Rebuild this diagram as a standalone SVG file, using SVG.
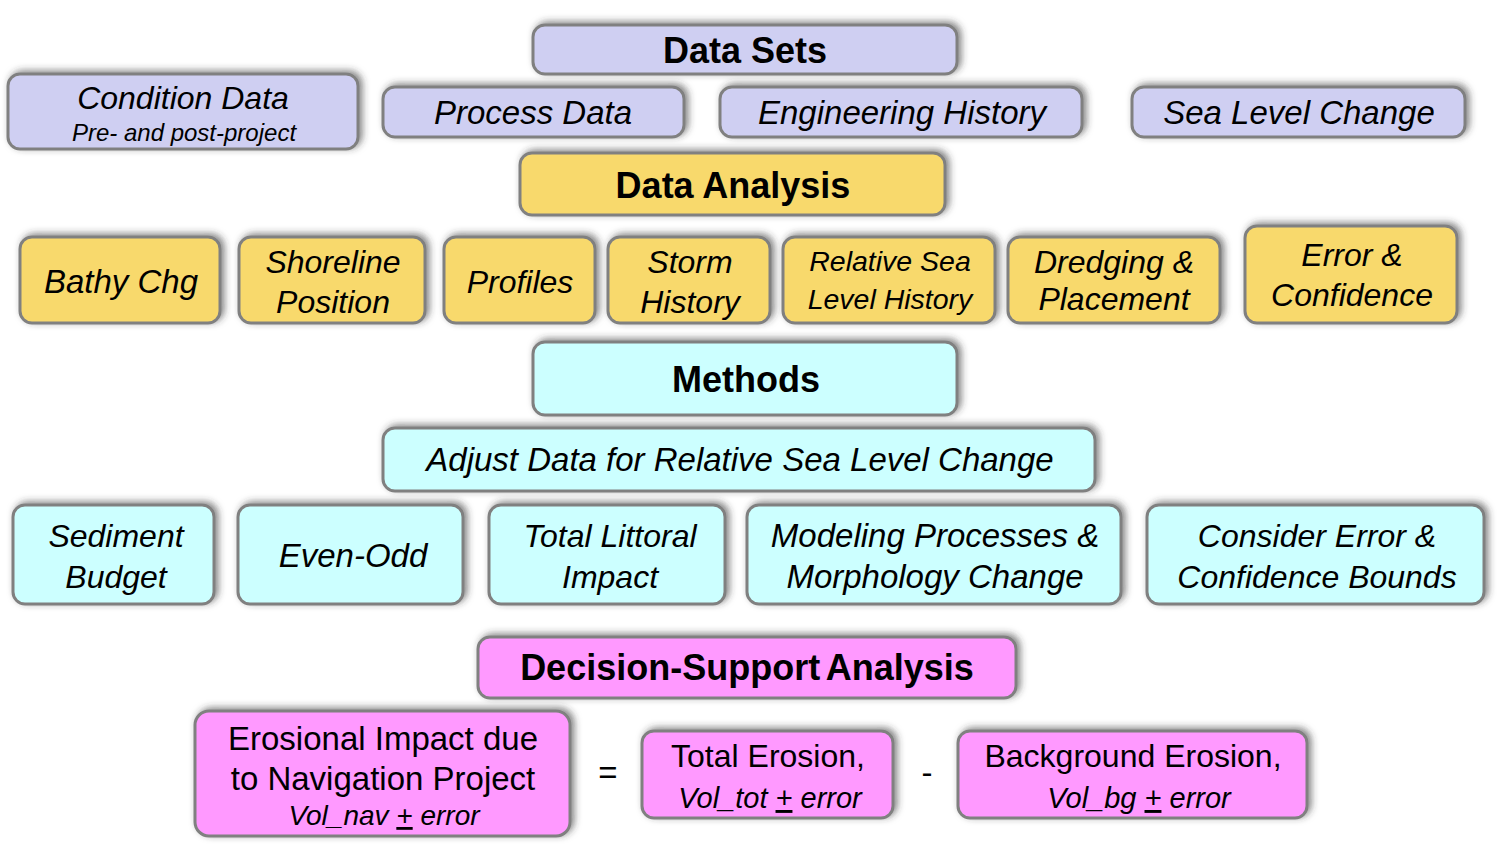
<svg xmlns="http://www.w3.org/2000/svg" width="1501" height="845" viewBox="0 0 1501 845">
<defs>
<filter id="sh" x="-10%" y="-30%" width="120%" height="160%">
<feDropShadow dx="3" dy="-2" stdDeviation="3.5" flood-color="#333" flood-opacity="0.6"/>
</filter>
<style>
rect{stroke:#808080;stroke-width:3;filter:url(#sh)}
.ds rect{fill:#cfcff2}
.da rect{fill:#f8d96c}
.me rect{fill:#ccffff}
.dc rect{fill:#ff99ff}
text{font-family:"Liberation Sans",Arial,sans-serif;fill:#000;text-anchor:middle}
.b{font-weight:bold;font-size:36px}
.i{font-style:italic;font-size:33px}
.i32{font-style:italic;font-size:32px}
.r{font-size:33px}
</style>
</defs>
<rect width="1501" height="845" fill="#fff" style="stroke:none;filter:none"/>
<g id="connectors"></g>
<g id="data-sets" class="ds"><rect x="533" y="25" width="424" height="49" rx="12"/><text class="b" x="745" y="63">Data Sets</text></g>
<g id="condition-data" class="ds"><rect x="8" y="74" width="350" height="75" rx="12"/><text class="i32" x="183" y="109">Condition Data</text><text style="font-style:italic;font-size:24px" x="184" y="141">Pre- and post-project</text></g>
<g id="process-data" class="ds"><rect x="383" y="87" width="301" height="50" rx="12"/><text class="i" x="533" y="124">Process Data</text></g>
<g id="engineering-history" class="ds"><rect x="720" y="87" width="362" height="50" rx="12"/><text class="i" x="902" y="124">Engineering History</text></g>
<g id="sea-level-change" class="ds"><rect x="1132" y="87" width="333" height="50" rx="12"/><text class="i" x="1299" y="124">Sea Level Change</text></g>
<g id="data-analysis" class="da"><rect x="520" y="153" width="425" height="62" rx="12"/><text class="b" x="733" y="198">Data Analysis</text></g>
<g id="bathy-chg" class="da"><rect x="20" y="237" width="200" height="86" rx="12"/><text class="i" x="121" y="293">Bathy Chg</text></g>
<g id="shoreline-position" class="da"><rect x="239" y="237" width="186" height="86" rx="12"/><text class="i32" x="333" y="273">Shoreline</text><text class="i32" x="333" y="313">Position</text></g>
<g id="profiles" class="da"><rect x="444" y="237" width="151" height="86" rx="12"/><text class="i32" x="520" y="293">Profiles</text></g>
<g id="storm-history" class="da"><rect x="608" y="237" width="162" height="86" rx="12"/><text class="i32" x="690" y="273">Storm</text><text class="i32" x="690" y="313">History</text></g>
<g id="relative-sea-level-history" class="da"><rect x="783" y="237" width="212" height="86" rx="12"/><text style="font-style:italic;font-size:28.5px" x="890" y="271">Relative Sea</text><text style="font-style:italic;font-size:28.5px" x="890" y="309">Level History</text></g>
<g id="dredging-placement" class="da"><rect x="1008" y="237" width="212" height="86" rx="12"/><text class="i32" x="1114" y="273">Dredging &amp;</text><text class="i32" x="1114" y="310">Placement</text></g>
<g id="error-confidence" class="da"><rect x="1245" y="226" width="212" height="97" rx="12"/><text class="i32" x="1352" y="266">Error &amp;</text><text class="i32" x="1352" y="306">Confidence</text></g>
<g id="methods" class="me"><rect x="533" y="342" width="424" height="73" rx="12"/><text class="b" x="746" y="392">Methods</text></g>
<g id="adjust-data" class="me"><rect x="383" y="428" width="712" height="63" rx="12"/><text class="i" x="740" y="471">Adjust Data for Relative Sea Level Change</text></g>
<g id="sediment-budget" class="me"><rect x="13" y="505" width="201" height="99" rx="12"/><text class="i32" x="116" y="547">Sediment</text><text class="i32" x="116" y="588">Budget</text></g>
<g id="even-odd" class="me"><rect x="238" y="505" width="225" height="99" rx="12"/><text class="i" x="353" y="567">Even-Odd</text></g>
<g id="total-littoral-impact" class="me"><rect x="489" y="505" width="236" height="99" rx="12"/><text class="i32" x="610" y="547">Total Littoral</text><text class="i32" x="610" y="588">Impact</text></g>
<g id="modeling-processes" class="me"><rect x="747" y="505" width="374" height="99" rx="12"/><text class="i" x="935" y="547">Modeling Processes &amp;</text><text class="i" x="935" y="588">Morphology Change</text></g>
<g id="consider-error" class="me"><rect x="1147" y="505" width="337" height="99" rx="12"/><text class="i32" x="1317" y="547">Consider Error &amp;</text><text class="i32" x="1317" y="588">Confidence Bounds</text></g>
<g id="decision-support" class="dc"><rect x="478" y="637" width="538" height="61" rx="12"/><text class="b" x="747" y="680" style="word-spacing:-3px">Decision-Support Analysis</text></g>
<g id="erosional-impact" class="dc"><rect x="195" y="711" width="375" height="125" rx="14"/><text class="r" x="383" y="750">Erosional Impact due</text><text class="r" x="383" y="790">to Navigation Project</text><text style="font-style:italic;font-size:28px" x="384" y="825">Vol_nav <tspan text-decoration="underline">+</tspan> error</text></g>
<text class="r" x="608" y="784">=</text>
<g id="total-erosion" class="dc"><rect x="642" y="731" width="251" height="87" rx="12"/><text class="r" style="font-size:32px" x="768" y="767">Total Erosion,</text><text style="font-style:italic;font-size:29px" x="770" y="808">Vol_tot <tspan text-decoration="underline">+</tspan> error</text></g>
<text class="r" x="927" y="784">-</text>
<g id="background-erosion" class="dc"><rect x="958" y="731" width="349" height="87" rx="12"/><text class="r" style="font-size:32px" x="1133" y="767">Background Erosion,</text><text style="font-style:italic;font-size:29px" x="1139" y="808">Vol_bg <tspan text-decoration="underline">+</tspan> error</text></g>
</svg>
